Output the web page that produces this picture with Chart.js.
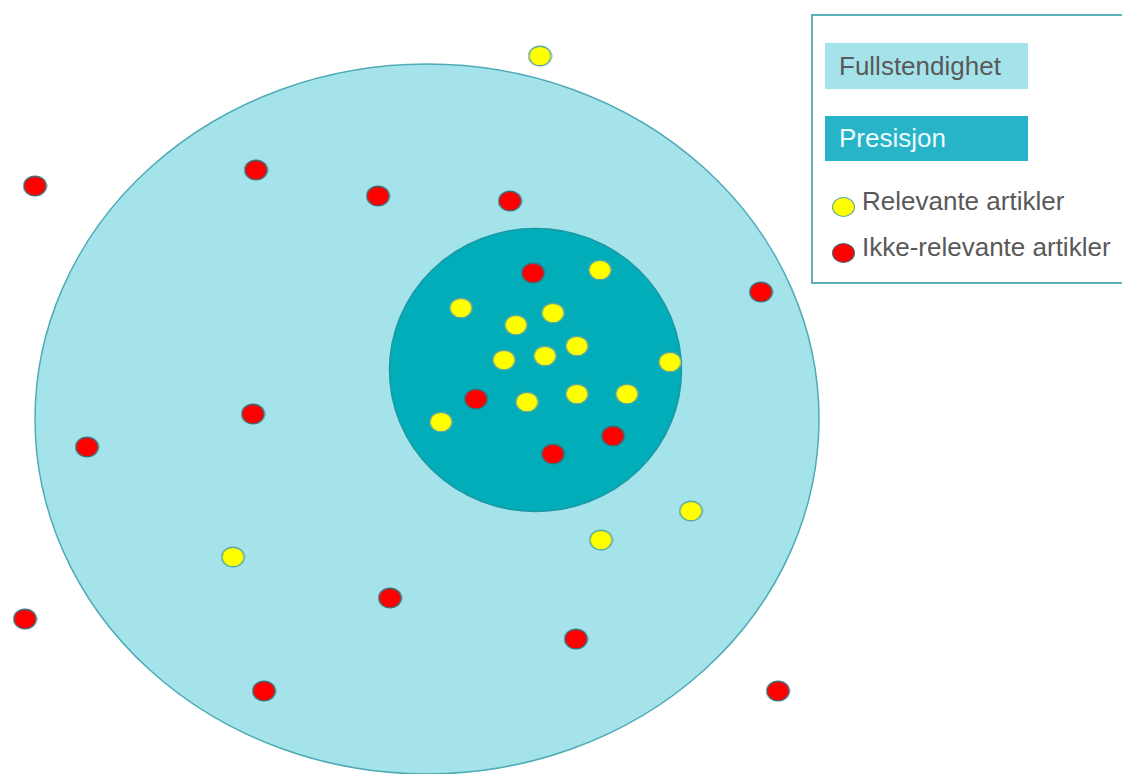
<!DOCTYPE html>
<html>
<head>
<meta charset="utf-8">
<script src="https://cdn.jsdelivr.net/npm/chart.js@4"></script>
<style>
  html, body { margin:0; padding:0; background:#ffffff; width:1122px; height:774px; overflow:hidden; }
  #wrap { position:absolute; left:0; top:0; width:1122px; height:774px; }
  #legend { position:absolute; left:811px; top:14px; width:330px; height:270px; border:2px solid #5fb0ba; box-sizing:border-box; background:#fff; }
  .lg { position:absolute; font-family:"Liberation Sans", Arial, sans-serif; font-size:26px; line-height:26px; white-space:nowrap; }
  .box { position:absolute; }
  .dot { position:absolute; width:21px; height:18px; border-radius:50%; }
</style>
</head>
<body>
<div id="wrap"><canvas id="c" width="1122" height="774"></canvas></div>
<div id="legend"></div>
<div class="box" style="left:825px;top:43px;width:203px;height:46px;background:#a5e3eb;"></div>
<div class="lg" style="left:839px;top:53px;color:#595959;">Fullstendighet</div>
<div class="box" style="left:825px;top:116px;width:203px;height:45px;background:#27b4c8;"></div>
<div class="lg" style="left:839px;top:125px;color:#eefafc;">Presisjon</div>
<div class="dot" style="left:832px;top:197px;background:#ffff00;border:1.5px solid #5aa99c;"></div>
<div class="lg" style="left:862px;top:188px;color:#595959;">Relevante artikler</div>
<div class="dot" style="left:832px;top:243px;background:#ff0000;border:1.5px solid #3f6d76;"></div>
<div class="lg" style="left:862px;top:234px;color:#595959;">Ikke-relevante artikler</div>
<script>
// Regions (ellipses), in canvas units
const regionNames = ['Fullstendighet', 'Presisjon'];
const regionCenterX = [427, 535.5];
const regionCenterY = [419, 370];
const regionRadiusX = [392, 146];
const regionRadiusY = [355, 141.5];

// Relevant articles (yellow)
const relevantX = [540, 600, 461, 553, 516, 577, 504, 545, 670, 527, 577, 627, 441, 691, 601, 233];
const relevantY = [56, 270, 308, 313, 325, 346, 360, 356, 362, 402, 394, 394, 422, 511, 540, 557];

// Non-relevant articles (red)
const irrelevantX = [35, 256, 378, 510, 533, 761, 253, 87, 476, 553, 613, 390, 25, 576, 264, 778];
const irrelevantY = [186, 170, 196, 201, 273, 292, 414, 447, 399, 454, 436, 598, 619, 639, 691, 691];

function makeDot(fill, stroke) {
  const cv = document.createElement('canvas');
  cv.width = 25; cv.height = 22;
  const g = cv.getContext('2d');
  g.beginPath();
  g.ellipse(12.5, 11, 11.2, 9.8, 0, 0, Math.PI * 2);
  g.fillStyle = fill; g.fill();
  g.lineWidth = 1.4; g.strokeStyle = stroke; g.stroke();
  return cv;
}
const yellowDot = makeDot('#ffff00', '#5aa99c');
const redDot = makeDot('#ff0000', '#3f6d76');

const regionFill = ['#a5e3eb', '#02adba'];
const regionStroke = ['#4eabb6', '#1c98a4'];

const regionPlugin = {
  id: 'regions',
  beforeDatasetsDraw(chart) {
    const ctx = chart.ctx, xs = chart.scales.x, ys = chart.scales.y;
    regionNames.forEach((name, i) => {
      const cx = xs.getPixelForValue(regionCenterX[i]);
      const cy = ys.getPixelForValue(regionCenterY[i]);
      const rx = Math.abs(xs.getPixelForValue(regionCenterX[i] + regionRadiusX[i]) - cx);
      const ry = Math.abs(ys.getPixelForValue(regionCenterY[i] + regionRadiusY[i]) - cy);
      ctx.save();
      ctx.beginPath();
      ctx.ellipse(cx, cy, rx, ry, 0, 0, Math.PI * 2);
      ctx.fillStyle = regionFill[i];
      ctx.fill();
      ctx.lineWidth = 1.5;
      ctx.strokeStyle = regionStroke[i];
      ctx.stroke();
      ctx.restore();
    });
  }
};

const toPoints = (xs, ys) => xs.map((x, i) => ({ x: x, y: ys[i] }));

new Chart(document.getElementById('c'), {
  type: 'scatter',
  data: {
    datasets: [
      { label: 'Relevante artikler', data: toPoints(relevantX, relevantY), pointStyle: yellowDot, clip: false },
      { label: 'Ikke-relevante artikler', data: toPoints(irrelevantX, irrelevantY), pointStyle: redDot, clip: false }
    ]
  },
  options: {
    responsive: false,
    animation: false,
    events: [],
    devicePixelRatio: 1,
    layout: { padding: 0, autoPadding: false },
    plugins: { legend: { display: false }, tooltip: { enabled: false } },
    scales: {
      x: { type: 'linear', min: 0, max: 1122, display: false },
      y: { type: 'linear', min: 0, max: 774, reverse: true, display: false }
    }
  },
  plugins: [regionPlugin]
});
</script>
</body>
</html>
